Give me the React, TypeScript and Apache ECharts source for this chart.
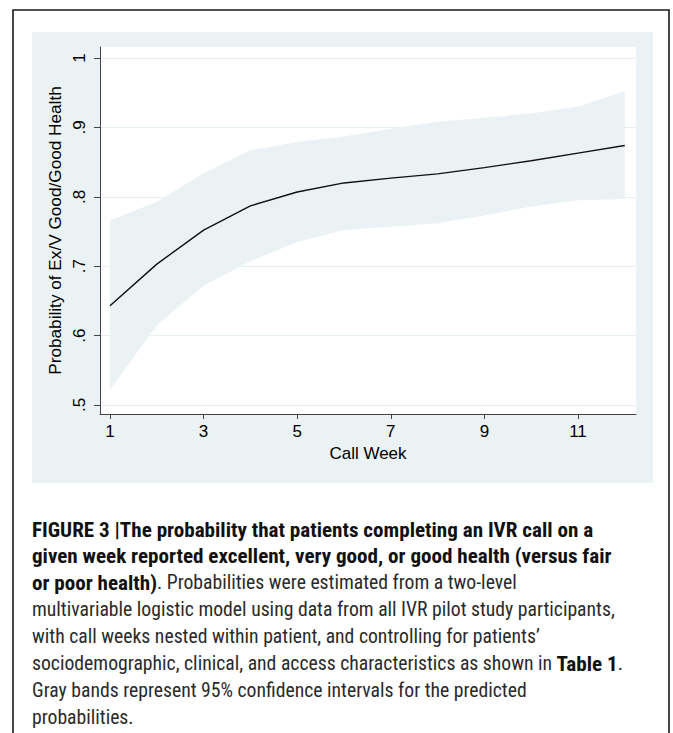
import React, { useEffect, useRef } from "react";
import * as echarts from "echarts";

const weeks = [1, 2, 3, 4, 5, 6, 7, 8, 9, 10, 11, 12];
const predicted = [0.643, 0.703, 0.752, 0.787, 0.807, 0.82, 0.827, 0.833, 0.842, 0.852, 0.863, 0.874];
const upperCI = [0.766, 0.793, 0.834, 0.867, 0.879, 0.887, 0.898, 0.908, 0.914, 0.92, 0.93, 0.952];
const lowerCI = [0.522, 0.615, 0.672, 0.707, 0.735, 0.752, 0.757, 0.762, 0.773, 0.786, 0.795, 0.797];
const xTicks = [1, 3, 5, 7, 9, 11];
const yTicks = [0.5, 0.6, 0.7, 0.8, 0.9, 1];

const captionLines = [
  "{b|FIGURE 3 |The probability that patients completing an IVR call on a}",
  "{b|given week reported excellent, very good, or good health (versus fair}",
  "{b|or poor health)}{r|. Probabilities were estimated from a two-level}",
  "{r|multivariable logistic model using data from all IVR pilot study participants,}",
  "{r|with call weeks nested within patient, and controlling for patients\u2019}",
  "{r|sociodemographic, clinical, and access characteristics as shown in }{b|Table 1}{r|.}",
  "{r|Gray bands represent 95% confidence intervals for the predicted}",
  "{r|probabilities.}",
];

const PANEL = "#eaf2f3";
const CAPFONT = "'Liberation Sans Narrow', 'Arial Narrow', 'Roboto Condensed', sans-serif";
const AXFONT = "'Liberation Sans', Arial, Helvetica, sans-serif";

export default function App() {
  const ref = useRef<HTMLDivElement>(null);
  useEffect(() => {
    if (!ref.current) return;
    const chart = echarts.init(ref.current, undefined, { renderer: "svg" });
    const captionGraphics = captionLines.map((t, i) => ({
      type: "text",
      z: 5,
      style: {
        x: 32,
        y: 529 + i * 26.9,
        text: t,
        verticalAlign: "middle",
        rich: {
          b: { fontFamily: CAPFONT, fontSize: 21.1, fontWeight: "bold", fill: "#111" },
          r: { fontFamily: CAPFONT, fontSize: 19.7, fontWeight: "normal", fill: "#2a2a2a" },
        },
      },
    }));
    chart.setOption({
      animation: false,
      backgroundColor: "#fff",
      graphic: [
        {
          type: "rect",
          z: -10,
          shape: { x: 13, y: 10, width: 656, height: 760 },
          style: { fill: "#fff", stroke: "#1a1a1a", lineWidth: 1.6 },
        },
        {
          type: "rect",
          z: -9,
          shape: { x: 32, y: 32, width: 621, height: 451 },
          style: { fill: PANEL },
        },
        ...captionGraphics,
      ],
      grid: {
        left: 100,
        right: 37,
        top: 47,
        bottom: 319,
        show: true,
        backgroundColor: "#fff",
        borderWidth: 0,
      },
      xAxis: {
        type: "value",
        min: 0.786,
        max: 12.24,
        name: "Call Week",
        nameLocation: "middle",
        nameGap: 29,
        nameTextStyle: { fontFamily: AXFONT, fontSize: 17, color: "#000" },
        axisLine: { show: true, lineStyle: { color: "#444", width: 1 } },
        axisTick: { show: true, customValues: xTicks, length: 5, lineStyle: { color: "#444" } },
        axisLabel: {
          customValues: xTicks,
          margin: 9,
          fontFamily: AXFONT,
          fontSize: 17,
          color: "#000",
          formatter: (v: number) => String(v),
        },
        splitLine: { show: false },
      },
      yAxis: {
        type: "value",
        min: 0.487,
        max: 1.0159,
        name: "Probability of Ex/V Good/Good Health",
        nameLocation: "middle",
        nameGap: 29,
        nameTextStyle: { fontFamily: AXFONT, fontSize: 17.2, color: "#000" },
        axisLine: { show: true, lineStyle: { color: "#444", width: 1 } },
        axisTick: { show: true, customValues: yTicks, length: 6, lineStyle: { color: "#444" } },
        axisLabel: {
          customValues: yTicks,
          rotate: 90,
          margin: 12,
          fontFamily: AXFONT,
          fontSize: 17,
          color: "#000",
          formatter: (v: number) => (v === 1 ? "1" : String(+v.toFixed(1)).replace(/^0\./, ".")),
        },
        splitLine: { show: true, lineStyle: { color: "#e6eff1", width: 1.2 } },
      },
      series: [
        {
          type: "custom",
          silent: true,
          clip: true,
          z: 1,
          data: weeks.map((w, i) => [w, lowerCI[i], upperCI[i]]),
          encode: { x: 0, y: [1, 2] },
          renderItem: (params: any, api: any) => {
            if (params.dataIndex !== 0) return null;
            const top = weeks.map((w, i) => api.coord([w, upperCI[i]]));
            const bottom = weeks.map((w, i) => api.coord([w, lowerCI[i]])).reverse();
            return {
              type: "polygon",
              shape: { points: top.concat(bottom) },
              style: { fill: PANEL, stroke: "none" },
            };
          },
        },
        {
          type: "line",
          symbol: "none",
          data: weeks.map((w, i) => [w, predicted[i]]),
          lineStyle: { color: "#111", width: 1.4 },
          z: 5,
        },
      ],
    });
    return () => chart.dispose();
  }, []);
  return (
    <div
      ref={ref}
      style={{ position: "absolute", left: 0, top: 0, width: 673, height: 733 }}
    />
  );
}
